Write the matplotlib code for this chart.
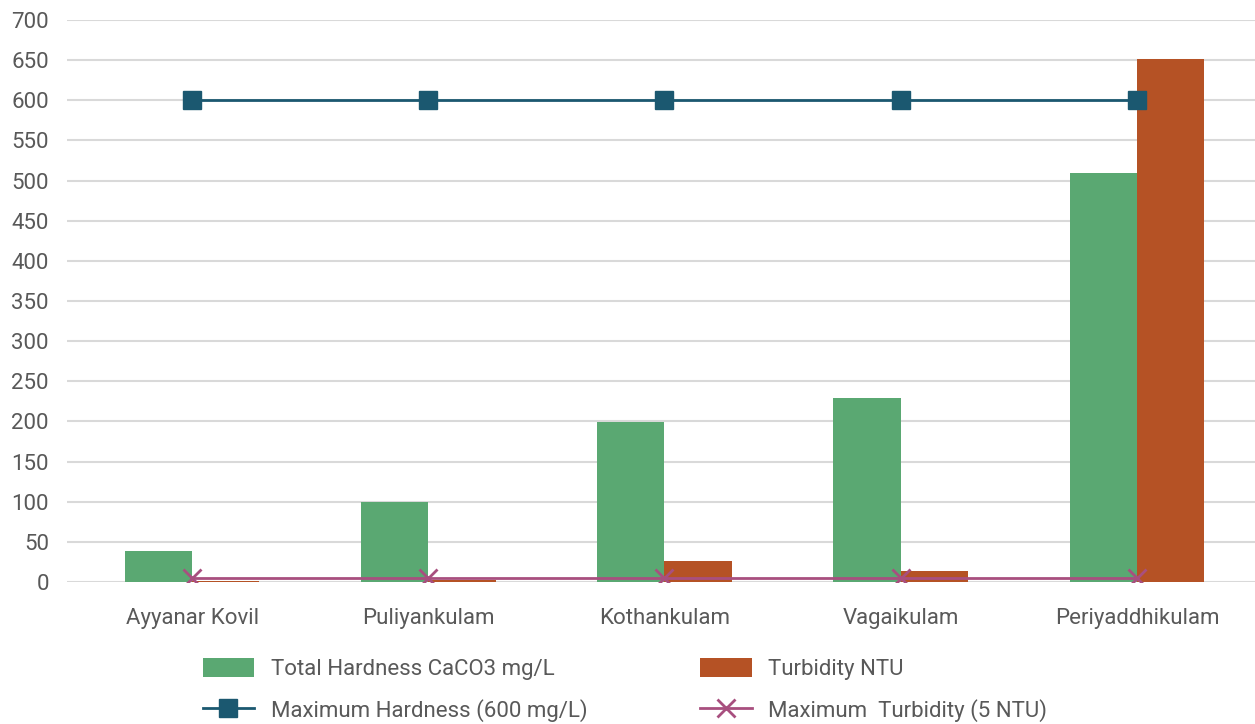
import numpy as np
import matplotlib
matplotlib.use("Agg")
import matplotlib.pyplot as plt

plt.rcParams['font.family'] = ['Roboto', 'DejaVu Sans']

sites = ['Ayyanar Kovil', 'Puliyankulam', 'Kothankulam', 'Vagaikulam', 'Periyaddhikulam']
hardness = [39, 100, 199, 229, 509]
turbidity = [1, 3, 26, 14, 651]
max_hardness = [600, 600, 600, 600, 600]
max_turbidity = [5, 5, 5, 5, 5]

green = '#5aa872'
rust = '#b55225'
navy = '#1b5870'
pink = '#a84f7f'
grey = '#595959'

fig = plt.figure(figsize=(12.55, 7.24), dpi=100)
ax = fig.add_axes([67 / 1255, 1 - 582 / 724, 1188 / 1255, 562 / 724])

x = np.arange(len(sites))
w = 0.285
b1 = ax.bar(x - w / 2, hardness, w, color=green, label='Total Hardness CaCO3 mg/L', zorder=2)
b2 = ax.bar(x + w / 2, turbidity, w, color=rust, label='Turbidity NTU', zorder=2)
l1, = ax.plot(x, max_hardness, color=navy, lw=2, marker='s', markersize=13,
              label='Maximum Hardness (600 mg/L)', zorder=3)
l2, = ax.plot(x, max_turbidity, color=pink, lw=2, marker='x', markersize=13, mew=2,
              label='Maximum  Turbidity (5 NTU)', zorder=3)

ax.set_xlim(-0.5 - 7 / 236.25, len(sites) - 0.5)
ax.set_ylim(0, 700)
ax.set_yticks(np.arange(0, 701, 50))
ax.set_xticks(x)
ax.set_xticklabels(sites)
ax.grid(axis='y', color='#d9d9d9', lw=1.5, zorder=0)
ax.set_axisbelow(True)
for s in ax.spines.values():
    s.set_visible(False)
ax.tick_params(axis='both', length=0, colors=grey, labelsize=16)
ax.tick_params(axis='y', pad=13)
ax.tick_params(axis='x', pad=19)

fig.legend(handles=[b1, l1, b2, l2], ncol=2, loc='center',
           bbox_to_anchor=(0.498, 1 - 690 / 724), frameon=False, fontsize=16,
           labelcolor=grey, handlelength=2.3, handleheight=0.9, columnspacing=5.1,
           labelspacing=0.85, handletextpad=0.75)

fig.savefig('out.png', dpi=100)
